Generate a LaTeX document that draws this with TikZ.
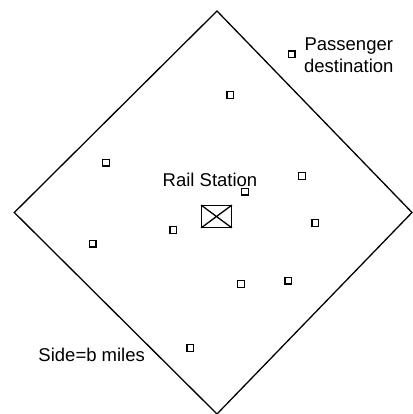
\documentclass[tikz,border=0pt]{standalone}
\usepackage{fontspec}
\setmainfont{Liberation Sans}
\begin{document}
\begin{tikzpicture}[x=1pt,y=-1pt,
  dest/.style={draw,line width=1.3pt,minimum size=6.5pt,inner sep=0pt},
  lbl/.style={font=\fontsize{18.5}{22}\selectfont,inner sep=0pt},
  region/.style={line width=1.3pt}]
\useasboundingbox (0,0) rectangle (412,414);
\coordinate (T) at (217,11);
\coordinate (R) at (412,212.5);
\coordinate (B) at (217,414);
\coordinate (L) at (14.3,212.5);
\draw[region] (T) -- (R) -- (B) -- (L) -- cycle;
\node[draw,line width=1.3pt,minimum width=29.5pt,minimum height=21.5pt,inner sep=0pt] (st) at (216.5,216.5) {};
\draw[line width=1.3pt] (st.north west) -- (st.south east) (st.south west) -- (st.north east);
\node[lbl,anchor=base] (stl) at (210,186.7) {Rail Station};
\node[lbl,anchor=base] (p1) at (348.8,50.7) {Passenger};
\node[lbl,anchor=base] (p2) at (348.8,72.7) {destination};
\node[lbl,anchor=base] (side) at (91.7,361) {Side=b miles};
\node[dest] (d1) at (291.7,54.3) {};
\node[dest] (d2) at (230.3,95) {};
\node[dest] (d3) at (106,162.7) {};
\node[dest] (d4) at (302,176) {};
\node[dest] (d5) at (245,191.7) {};
\node[dest] (d6) at (315.3,223) {};
\node[dest] (d7) at (173.3,230) {};
\node[dest] (d8) at (92.7,243.7) {};
\node[dest] (d9) at (241,284) {};
\node[dest] (d10) at (288.3,280.7) {};
\node[dest] (d11) at (190.3,348) {};
\end{tikzpicture}
\end{document}
